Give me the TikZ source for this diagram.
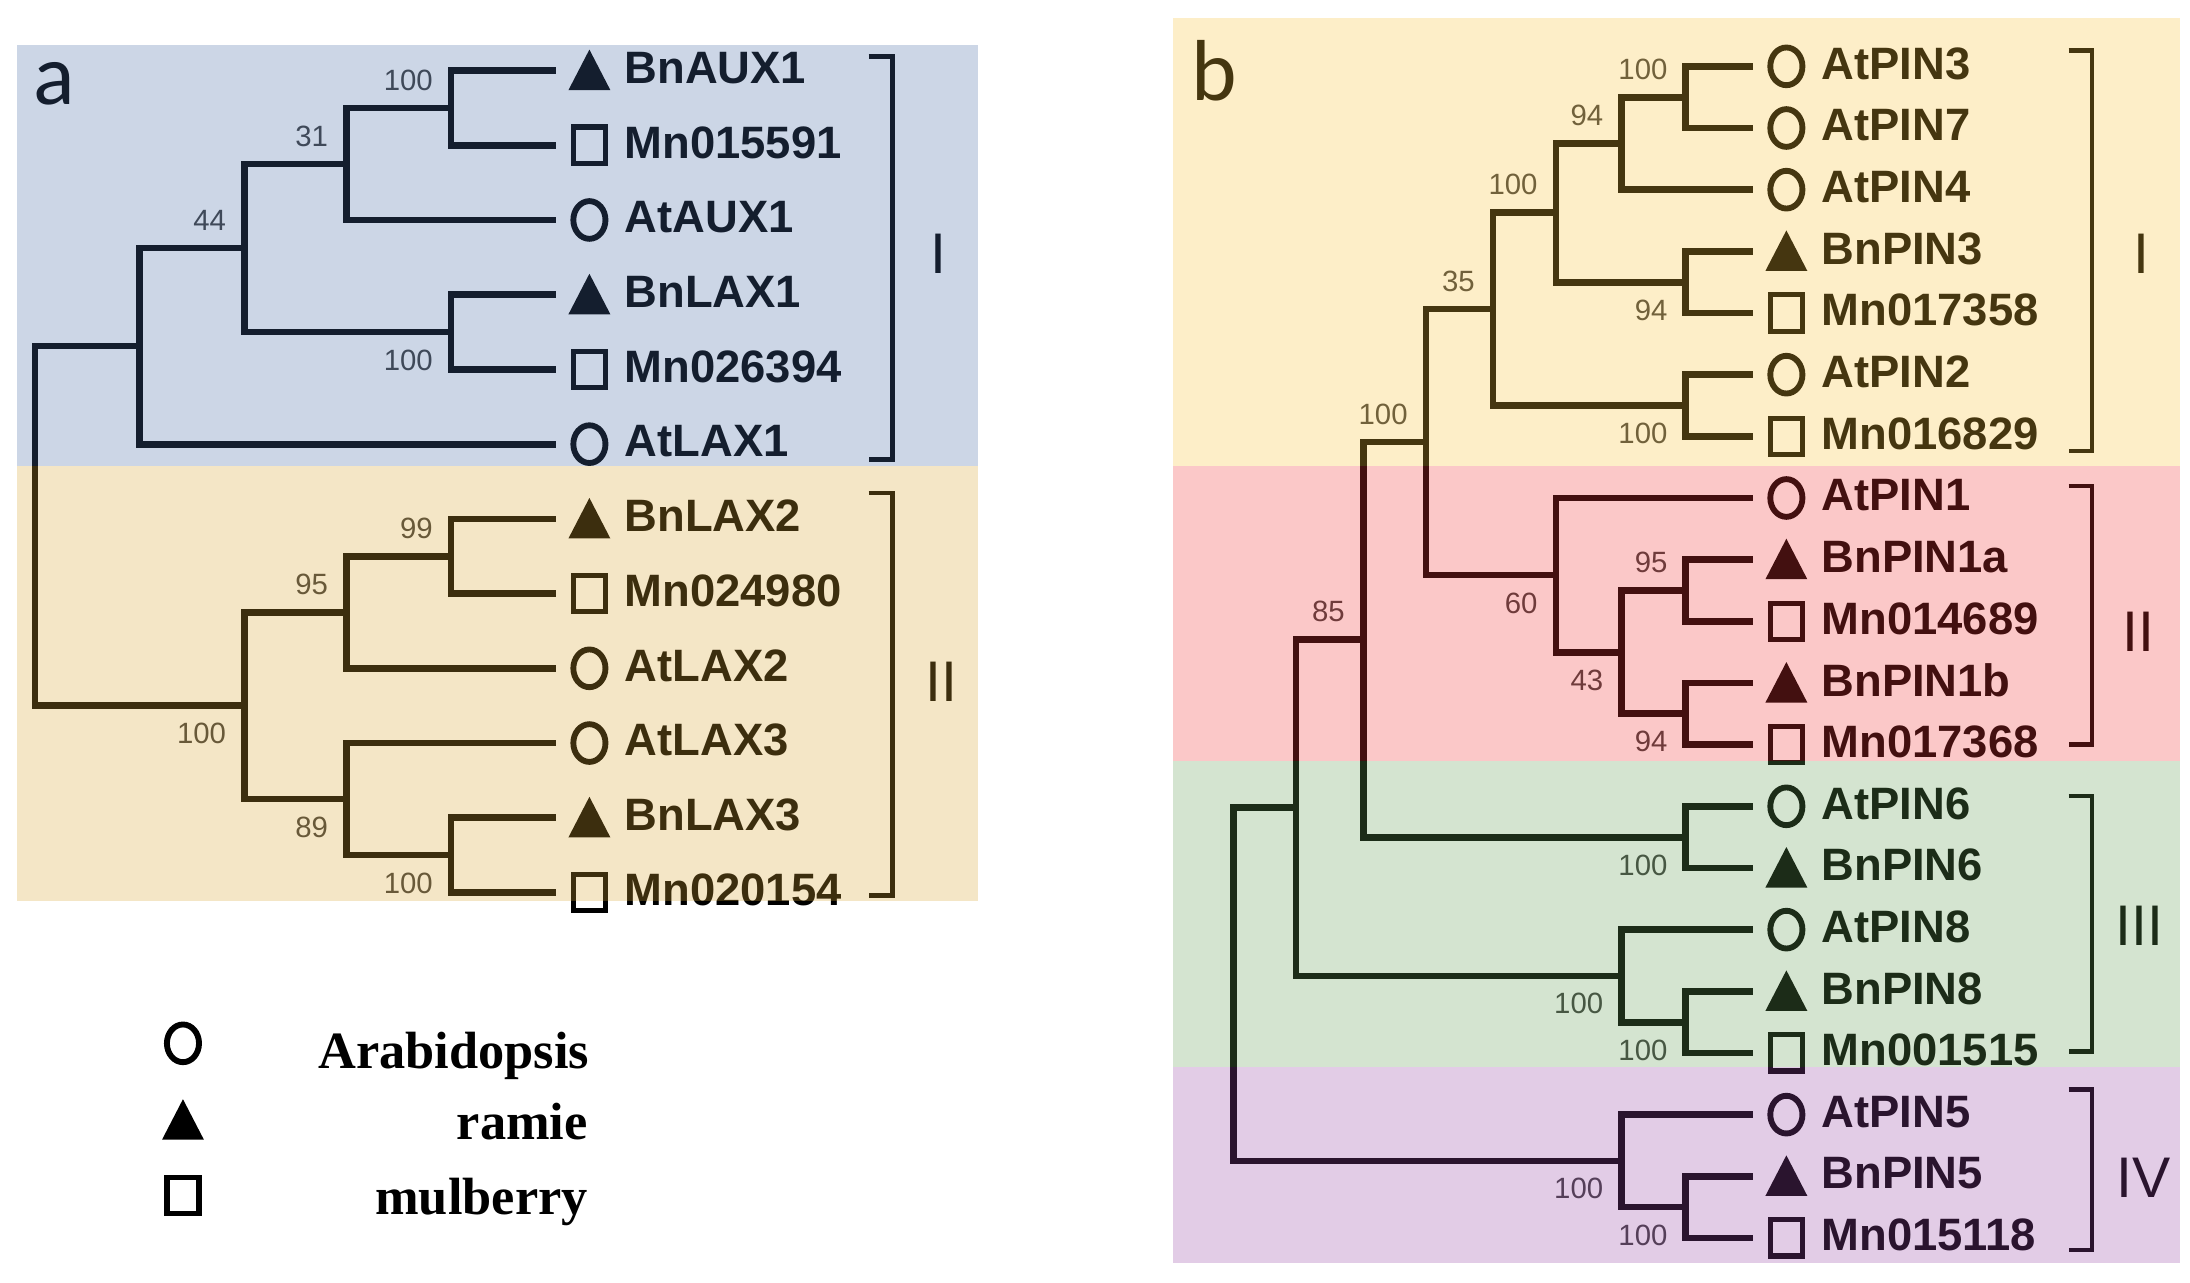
\documentclass[tikz,border=0pt]{standalone}
\usepackage{fontspec}
\setmainfont{Liberation Sans}
\newfontfamily\capfont{Carlito}
\newfontfamily\legfont{Liberation Serif}

\definecolor{ovBlue}{RGB}{73,109,166}
\definecolor{ovTan}{RGB}{219,166,52}
\definecolor{ovYel}{RGB}{251,194,59}
\definecolor{ovPink}{RGB}{244,59,59}
\definecolor{ovGreen}{RGB}{101,159,87}
\definecolor{ovPurp}{RGB}{151,73,166}
\definecolor{bootgray}{RGB}{60,60,60}

\tikzset{
  br/.style={line width=4.8pt, line join=miter},
  circsym/.pic={\draw[line width=4.2pt] (0,0) ellipse [x radius=11.5, y radius=13.5];},
  sqsym/.pic={\draw[line width=3.8pt] (-11.5,-13) rectangle (11.5,13);},
  trisym/.pic={\fill[line join=round] (-15,14) -- (15,14) -- (0,-15) -- cycle;},
  leaflbl/.style={font=\bfseries\fontsize{32.5}{36}\selectfont, anchor=west, inner sep=0pt},
  boot/.style={font=\fontsize{21}{24}\selectfont, text=bootgray, anchor=east, inner sep=0pt},
  grp/.style={font=\fontsize{41}{46}\selectfont, inner sep=0pt},
  brk/.style={line width=3.2pt},
  legtxt/.style={font=\legfont\bfseries\fontsize{37.5}{40}\selectfont, anchor=base east, inner sep=0pt},
  panellbl/.style={font=\capfont\fontsize{62}{66}\selectfont, anchor=base west, inner sep=0pt},
  ov/.style={opacity=0.28},
}

% name, tip x, y, symbol pic, text
\newcommand\leafnode[5]{%
  \coordinate (#1) at (#2,#3);
  \pic at (#2+24,#3) {#4};
  \node[leaflbl] (#1-t) at (#2+49,#3-2) {#5};
}
% parent, child1, child2
\newcommand\kids[3]{\draw[br] (#2) -| (#1) |- (#3);}
% bootstrap label: node, dy, text
\newcommand\bs[3]{\node[boot] (#1-b) at ([shift={(-13,#2)}]#1) {#3};}
% bracket: name, x, ytop, ybot
\newcommand\bracket[4]{%
  \coordinate (#1-t) at (#2,#3);
  \coordinate (#1-b) at (#2,#4);
  \draw[brk] ([xshift=-17pt]#1-t) -- (#1-t) -- (#1-b) -- ([xshift=-17pt]#1-b);
}

\begin{document}
\begin{tikzpicture}[x=1pt, y=-1pt]
\fill[white] (0,0) rectangle (1568,918);
\useasboundingbox (0,0) rectangle (1568,918);

% ================= panel a =================
\node[panellbl] (la) at (24,75) {a};

\leafnode{a1}{398}{50.5}{trisym}{BnAUX1}
\leafnode{a2}{398}{104}{sqsym}{Mn015591}
\leafnode{a3}{398}{157.5}{circsym}{AtAUX1}
\leafnode{a4}{398}{211}{trisym}{BnLAX1}
\leafnode{a5}{398}{264.5}{sqsym}{Mn026394}
\leafnode{a6}{398}{318}{circsym}{AtLAX1}
\leafnode{a7}{398}{371.5}{trisym}{BnLAX2}
\leafnode{a8}{398}{425}{sqsym}{Mn024980}
\leafnode{a9}{398}{478.5}{circsym}{AtLAX2}
\leafnode{a10}{398}{532}{circsym}{AtLAX3}
\leafnode{a11}{398}{585.5}{trisym}{BnLAX3}
\leafnode{a12}{398}{639}{sqsym}{Mn020154}

\coordinate (A1) at (323,77.25);
\coordinate (A2) at (248,117.4);
\coordinate (A3) at (323,237.75);
\coordinate (A4) at (175,177.6);
\coordinate (A5) at (100,247.8);
\coordinate (B1) at (323,398.25);
\coordinate (B2) at (248,438.4);
\coordinate (B3) at (323,612.25);
\coordinate (B4) at (248,572.1);
\coordinate (B5) at (175,505.25);
\coordinate (RA) at (25,376.5);

\kids{A1}{a1}{a2}
\kids{A2}{A1}{a3}
\kids{A3}{a4}{a5}
\kids{A4}{A2}{A3}
\kids{A5}{A4}{a6}
\kids{B1}{a7}{a8}
\kids{B2}{B1}{a9}
\kids{B3}{a11}{a12}
\kids{B4}{a10}{B3}
\kids{B5}{B2}{B4}
\kids{RA}{A5}{B5}

\bs{A1}{-20}{100}
\bs{A2}{-20}{31}
\bs{A3}{20}{100}
\bs{A4}{-20}{44}
\bs{B1}{-20}{99}
\bs{B2}{-20}{95}
\bs{B3}{20}{100}
\bs{B4}{20}{89}
\bs{B5}{20}{100}

\bracket{ka1}{639}{40.6}{329}
\bracket{ka2}{639}{353}{641}
\node[grp] (ga1) at (672,181.5) {I};
\node[grp] (ga2) at (674,488) {II};

% legend
\pic at (131,747) {circsym};
\pic at (131,802) {trisym};
\pic at (131,856) {sqsym};
\node[legtxt] (l1) at (422,764.7) {Arabidopsis};
\node[legtxt] (l2) at (421,816) {ramie};
\node[legtxt] (l3) at (421,869.7) {mulberry};

% ================= panel b =================
\node[panellbl] (lb) at (853,72) {b};

\leafnode{b1}{1255}{47.5}{circsym}{AtPIN3}
\leafnode{b2}{1255}{91.65}{circsym}{AtPIN7}
\leafnode{b3}{1255}{135.8}{circsym}{AtPIN4}
\leafnode{b4}{1255}{179.95}{trisym}{BnPIN3}
\leafnode{b5}{1255}{224.1}{sqsym}{Mn017358}
\leafnode{b6}{1255}{268.25}{circsym}{AtPIN2}
\leafnode{b7}{1255}{312.4}{sqsym}{Mn016829}
\leafnode{b8}{1255}{356.55}{circsym}{AtPIN1}
\leafnode{b9}{1255}{400.7}{trisym}{BnPIN1a}
\leafnode{b10}{1255}{444.85}{sqsym}{Mn014689}
\leafnode{b11}{1255}{489}{trisym}{BnPIN1b}
\leafnode{b12}{1255}{533.15}{sqsym}{Mn017368}
\leafnode{b13}{1255}{577.3}{circsym}{AtPIN6}
\leafnode{b14}{1255}{621.45}{trisym}{BnPIN6}
\leafnode{b15}{1255}{665.6}{circsym}{AtPIN8}
\leafnode{b16}{1255}{709.75}{trisym}{BnPIN8}
\leafnode{b17}{1255}{753.9}{sqsym}{Mn001515}
\leafnode{b18}{1255}{798.05}{circsym}{AtPIN5}
\leafnode{b19}{1255}{842.2}{trisym}{BnPIN5}
\leafnode{b20}{1255}{886.35}{sqsym}{Mn015118}

\coordinate (C1) at (1207,69.575);
\coordinate (C2) at (1161,102.69);
\coordinate (C3) at (1207,202.03);
\coordinate (C4) at (1114,152.36);
\coordinate (C5) at (1207,290.33);
\coordinate (C6) at (1069,221.34);
\coordinate (D1) at (1207,422.78);
\coordinate (D2) at (1207,511.08);
\coordinate (D3) at (1161,466.93);
\coordinate (D4) at (1114,411.74);
\coordinate (E1) at (1021,316.54);
\coordinate (F1) at (1207,599.38);
\coordinate (G1) at (976,457.96);
\coordinate (H1) at (1207,731.83);
\coordinate (H2) at (1161,698.71);
\coordinate (I1) at (928,578.34);
\coordinate (J1) at (1207,864.28);
\coordinate (J2) at (1161,831.17);
\coordinate (RB) at (883,704.75);

\kids{C1}{b1}{b2}
\kids{C2}{C1}{b3}
\kids{C3}{b4}{b5}
\kids{C4}{C2}{C3}
\kids{C5}{b6}{b7}
\kids{C6}{C4}{C5}
\kids{D1}{b9}{b10}
\kids{D2}{b11}{b12}
\kids{D3}{D1}{D2}
\kids{D4}{b8}{D3}
\kids{E1}{C6}{D4}
\kids{F1}{b13}{b14}
\kids{G1}{E1}{F1}
\kids{H1}{b16}{b17}
\kids{H2}{b15}{H1}
\kids{I1}{G1}{H2}
\kids{J1}{b19}{b20}
\kids{J2}{b18}{J1}
\kids{RB}{I1}{J2}

\bs{C1}{-20}{100}
\bs{C2}{-20}{94}
\bs{C3}{20}{94}
\bs{C4}{-20}{100}
\bs{C5}{20}{100}
\bs{C6}{-20}{35}
\bs{D1}{-20}{95}
\bs{D2}{20}{94}
\bs{D3}{20}{43}
\bs{D4}{20}{60}
\bs{E1}{-20}{100}
\bs{F1}{20}{100}
\bs{G1}{-20}{85}
\bs{H1}{20}{100}
\bs{H2}{20}{100}
\bs{J1}{20}{100}
\bs{J2}{20}{100}

\bracket{kb1}{1498}{36}{323}
\bracket{kb2}{1498}{348}{533}
\bracket{kb3}{1498}{570}{753}
\bracket{kb4}{1498}{780}{895}
\node[grp] (gb1) at (1533,182) {I};
\node[grp] (gb2) at (1531,452) {II};
\node[grp] (gb3) at (1532,663) {III};
\node[grp] (gb4) at (1535,843) {IV};

% ================= colour overlays =================
\fill[ovBlue, ov] (12,32) rectangle (700,333.5);
\fill[ovTan, ov] (12,333.5) rectangle (700,645);
\fill[ovYel, ov] (840,13) rectangle (1561,334);
\fill[ovPink, ov] (840,334) rectangle (1561,545);
\fill[ovGreen, ov] (840,545) rectangle (1561,764);
\fill[ovPurp, ov] (840,764) rectangle (1561,904.5);
\end{tikzpicture}
\end{document}
